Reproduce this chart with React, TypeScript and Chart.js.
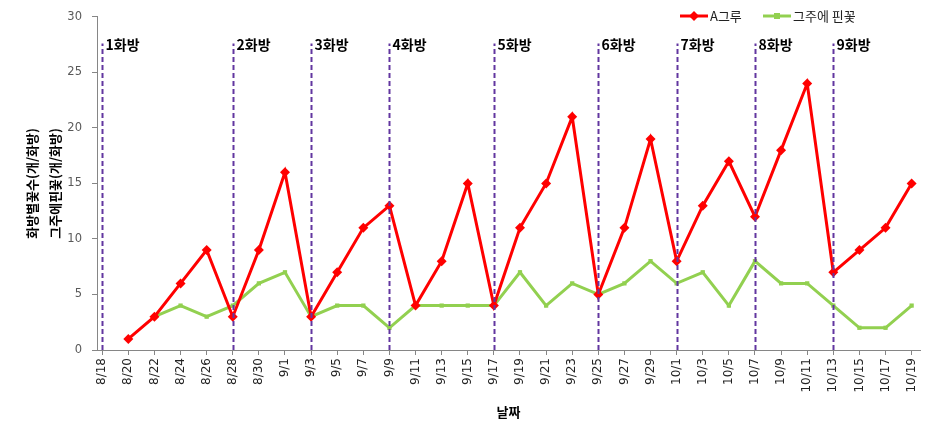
import React, { useEffect, useRef } from 'react';
import { Chart, registerables } from 'chart.js';
Chart.register(...registerables);

const dates = ['8/18','8/20','8/22','8/24','8/26','8/28','8/30','9/1','9/3','9/5','9/7','9/9','9/11','9/13','9/15','9/17','9/19','9/21','9/23','9/25','9/27','9/29','10/1','10/3','10/5','10/7','10/9','10/11','10/13','10/15','10/17','10/19'];
const plantA = [null,1,3,6,9,3,9,16,3,7,11,13,4,8,15,4,11,15,21,5,11,19,8,13,17,12,18,24,7,9,11,15];
const weekFlowers = [null,null,3,4,3,4,6,7,3,4,4,2,4,4,4,4,7,4,6,5,6,8,6,7,4,8,6,6,4,2,2,4];
const clusterDates = ['8/18','8/28','9/3','9/9','9/17','9/25','10/1','10/7','10/13'];
const clusterLabels = ['1화방','2화방','3화방','4화방','5화방','6화방','7화방','8화방','9화방'];
const seriesNames = ['A그루','그주에 핀꽃'];
const yTitle = ['화방별꽃수(개/화방)','그주에핀꽃(개/화방)'];
const xTitle = '날짜';

const KR = '"Noto Sans CJK KR", "Noto Sans", sans-serif';
const RED = '#FF0000';
const GREEN = '#92D050';
const PURPLE = '#6236A0';
const AXIS = '#868686';

const overlayPlugin = {
  id: 'overlay',
  afterDatasetsDraw(chart: any) {
    const { ctx, chartArea, scales } = chart;
    const x = scales.x, y = scales.y;
    ctx.save();
    const topPx = y.getPixelForValue(27.6);
    clusterDates.forEach((d, k) => {
      const i = dates.indexOf(d);
      const px = Math.round(x.getPixelForValue(i)) + 0.5;
      ctx.beginPath();
      ctx.setLineDash([5, 3]);
      ctx.strokeStyle = PURPLE;
      ctx.lineWidth = 2;
      ctx.moveTo(px, chartArea.bottom);
      ctx.lineTo(px, topPx);
      ctx.stroke();
      ctx.setLineDash([]);
      ctx.fillStyle = '#000';
      ctx.font = 'bold 14px ' + KR;
      ctx.textAlign = 'left';
      ctx.textBaseline = 'middle';
      ctx.fillText(clusterLabels[k], px + 3, topPx + 1);
    });
    const items = chart.data.datasets;
    const ly = 16;
    const starts = [680, 763];
    items.forEach((ds: any, k: number) => {
      const sx = starts[k];
      const len = 28;
      ctx.beginPath();
      ctx.strokeStyle = ds.borderColor;
      ctx.lineWidth = 3;
      ctx.moveTo(sx, ly);
      ctx.lineTo(sx + len, ly);
      ctx.stroke();
      ctx.fillStyle = ds.pointBackgroundColor;
      const cx = sx + len / 2;
      if (ds.pointStyle === 'rectRot') {
        ctx.beginPath();
        ctx.moveTo(cx, ly - 5);
        ctx.lineTo(cx + 5, ly);
        ctx.lineTo(cx, ly + 5);
        ctx.lineTo(cx - 5, ly);
        ctx.closePath();
        ctx.fill();
      } else {
        ctx.fillRect(cx - 3, ly - 3, 6, 6);
      }
      ctx.fillStyle = '#222';
      ctx.font = '13px ' + KR;
      ctx.textAlign = 'left';
      ctx.textBaseline = 'middle';
      ctx.fillText(ds.label, sx + len + 2, ly);
    });
    ctx.restore();
  },
};

export default function App() {
  const ref = useRef<HTMLCanvasElement>(null);
  useEffect(() => {
    if (!ref.current) return;
    const chart = new Chart(ref.current, {
      type: 'line',
      data: {
        datasets: [
          {
            label: seriesNames[0],
            data: plantA.map((v, i) => ({ x: i, y: v })) as any,
            borderColor: RED,
            backgroundColor: RED,
            pointBackgroundColor: RED,
            pointBorderColor: RED,
            borderWidth: 3,
            pointStyle: 'rectRot',
            pointRadius: 5,
            pointBorderWidth: 0,
            spanGaps: false,
          },
          {
            label: seriesNames[1],
            data: weekFlowers.map((v, i) => ({ x: i, y: v })) as any,
            borderColor: GREEN,
            backgroundColor: GREEN,
            pointBackgroundColor: GREEN,
            pointBorderColor: GREEN,
            borderWidth: 3,
            pointStyle: 'rect',
            pointRadius: 3,
            pointBorderWidth: 0,
            spanGaps: false,
          },
        ],
      },
      options: {
        animation: false,
        responsive: true,
        maintainAspectRatio: false,
        layout: { padding: { top: 16, right: 14, left: 0, bottom: 0 } },
        plugins: { legend: { display: false }, tooltip: { enabled: false } },
        scales: {
          x: {
            type: 'linear',
            min: -0.2,
            max: 31.32,
            afterBuildTicks: (s: any) => { s.ticks = dates.map((_, i) => ({ value: i })); },
            afterFit: (s: any) => { s.height = 88; },
            ticks: {
              autoSkip: false,
              minRotation: 90,
              maxRotation: 90,
              padding: 3,
              color: '#222',
              font: { family: '"DejaVu Sans", sans-serif', size: 12 },
              callback: (v: any) => dates[v] ?? '',
            },
            grid: { display: true, drawOnChartArea: false, tickLength: 5, color: AXIS },
            border: { color: AXIS, width: 1 },
            title: {
              display: true,
              text: xTitle,
              color: '#000',
              font: { family: KR, size: 13, weight: 'bold' },
              padding: { top: 0, bottom: 18 },
            },
          },
          y: {
            min: 0,
            max: 30,
            afterFit: (s: any) => { s.width = 97; },
            ticks: {
              stepSize: 5,
              padding: 10,
              color: '#595959',
              font: { family: '"DejaVu Sans", sans-serif', size: 11.5 },
            },
            grid: { display: true, drawOnChartArea: false, tickLength: 5, color: AXIS },
            border: { color: AXIS, width: 1 },
            title: {
              display: true,
              text: yTitle,
              color: '#000',
              font: { family: KR, size: 13, weight: 'bold', lineHeight: 1.8 },
              padding: { top: 20, bottom: 0 },
            },
          },
        },
      },
      plugins: [overlayPlugin],
    });
    return () => chart.destroy();
  }, []);
  return (
    <div style={{ position: 'absolute', left: 0, top: 0, width: 934, height: 438, background: '#fff' }}>
      <canvas ref={ref} />
    </div>
  );
}
